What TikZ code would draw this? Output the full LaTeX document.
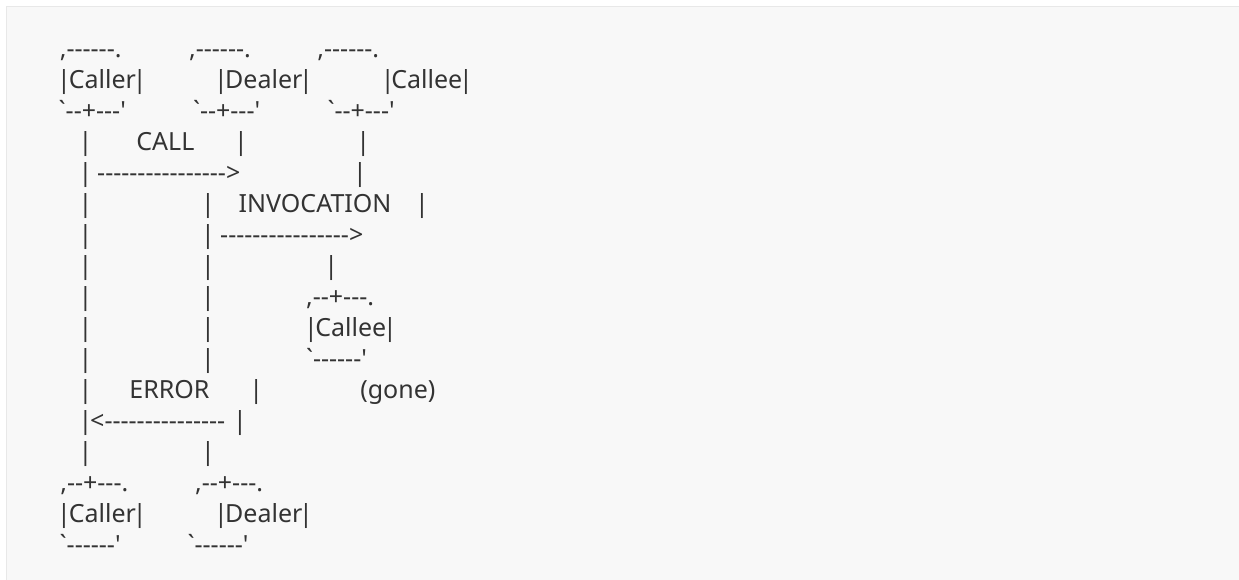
\documentclass[tikz,border=0pt]{standalone}
\usepackage{fontspec}
\newfontfamily\asc{Noto Sans}[Ligatures=TeXOff]
\definecolor{bgc}{HTML}{F8F8F8}
\definecolor{bdc}{HTML}{E8E8E8}
\definecolor{inkc}{HTML}{333333}
\begin{document}
\begin{tikzpicture}[x=1pt,y=-1pt,
  t/.style={inner sep=0pt, outer sep=0pt, anchor=base west, text=inkc, font=\asc\fontsize{25}{31}\selectfont},
  b/.style={t, anchor=base}]
\useasboundingbox (0,0) rectangle (1239,580);
\fill[bdc] (6,6) rectangle (1239,580);
\fill[bgc] (7,7) rectangle (1239,580);
% line 1
\node[t] (a1) at (59.8,57.5) {,------.};
\node[t] (a2) at (189.1,57.5) {,------.};
\node[t] (a3) at (317.4,57.5) {,------.};
% line 2
\node[b] (b1l) at (64,88.5) {|};
\node[t] (b1) at (68.9,88.5) {Caller};
\node[b] (b1r) at ([xshift=3.6pt]b1.base east) {|};
\node[b] (b2l) at (221,88.5) {|};
\node[t] (b2) at (225.2,88.5) {Dealer};
\node[b] (b2r) at ([xshift=3.6pt]b2.base east) {|};
\node[b] (b3l) at (387.7,88.5) {|};
\node[t] (b3) at (391.4,88.5) {Callee};
\node[b] (b3r) at ([xshift=3.6pt]b3.base east) {|};
% line 3
\node[t] (c1) at (58.7,119.5) {`--+---'};
\node[t] (c2) at (193,119.5) {`--+---'};
\node[t] (c3) at (327.5,119.5) {`--+---'};
% line 4
\node[b] (d1) at (85.5,150.5) {|};
\node[t] (d2) at (136.4,150.5) {CALL};
\node[b] (d3) at (241,150.5) {|};
\node[b] (d4) at (363.3,150.5) {|};
% line 5
\node[b] (e1) at (85.5,181.5) {|};
\node[t] (e2) at (97.2,181.5) {---------------->};
\node[b] (e3) at (360,181.5) {|};
% line 6
\node[b] (f1) at (85.5,212.5) {|};
\node[b] (f2) at (208,212.5) {|};
\node[t] (f3) at (238.7,212.5) {INVOCATION};
\node[b] (f4) at (422,212.5) {|};
% line 7
\node[b] (g1) at (85.5,243.5) {|};
\node[b] (g2) at (208,243.5) {|};
\node[t] (g3) at (220.2,243.5) {---------------->};
% line 8
\node[b] (h1) at (85.5,274.5) {|};
\node[b] (h2) at (208,274.5) {|};
\node[b] (h3) at (331.3,274.5) {|};
% line 9
\node[b] (i1) at (85.5,305.5) {|};
\node[b] (i2) at (208,305.5) {|};
\node[t] (i3) at (306.1,305.5) {,--+---.};
% line 10
\node[b] (j1) at (85.5,336.5) {|};
\node[b] (j2) at (208,336.5) {|};
\node[b] (j3l) at (311,336.5) {|};
\node[t] (j3) at (315.4,336.5) {Callee};
\node[b] (j3r) at ([xshift=3.6pt]j3.base east) {|};
% line 11
\node[b] (k1) at (85.5,367.5) {|};
\node[b] (k2) at (208,367.5) {|};
\node[t] (k3) at (306,367.5) {`------'};
% line 12
\node[b] (l1) at (85.5,398.5) {|};
\node[t] (l2) at (129.4,398.5) {ERROR};
\node[b] (l3) at (256.3,398.5) {|};
\node[t] (l4) at (360.3,398.5) {(gone)};
% line 13
\node[b] (m1) at (85.5,429.5) {|};
\node[t] (m2) at (90.2,429.5) {<---------------};
\node[b] (m3) at (240,429.5) {|};
% line 14
\node[b] (n1) at (85.5,460.5) {|};
\node[b] (n2) at (208,460.5) {|};
% line 15
\node[t] (o1) at (60.3,491.5) {,--+---.};
\node[t] (o2) at (195.1,491.5) {,--+---.};
% line 16
\node[b] (p1l) at (64,522.5) {|};
\node[t] (p1) at (68.9,522.5) {Caller};
\node[b] (p1r) at ([xshift=3.6pt]p1.base east) {|};
\node[b] (p2l) at (221,522.5) {|};
\node[t] (p2) at (225.2,522.5) {Dealer};
\node[b] (p2r) at ([xshift=3.6pt]p2.base east) {|};
% line 17
\node[t] (q1) at (59.7,553.5) {`------'};
\node[t] (q2) at (187.6,553.5) {`------'};
\end{tikzpicture}
\end{document}
